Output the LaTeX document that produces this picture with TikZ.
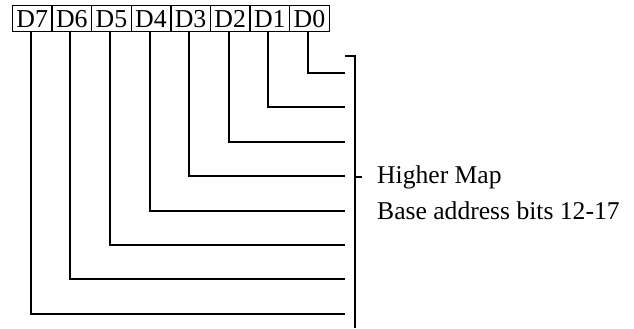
\documentclass[tikz,border=0pt]{standalone}
\usepackage{fontspec}
\setmainfont{Liberation Serif}
\begin{document}
\begin{tikzpicture}[x=1pt,y=-1pt,
  bitbox/.style={draw,line width=1.4pt,minimum width=39.6pt,minimum height=26pt,inner sep=0pt,anchor=north west,font=\fontsize{25.8}{28}\selectfont},
  wire/.style={line width=2pt},
  lbl/.style={anchor=west,inner sep=0pt,font=\fontsize{25.6}{28}\selectfont}]
\useasboundingbox (0,0) rectangle (634,329);
\foreach \i/\n in {0/7,1/6,2/5,3/4,4/3,5/2,6/1,7/0} {
  \node[bitbox] (d\n) at ({11.7+39.6*\i},5) {D\n};
}
\foreach \n in {0,...,7} {
  \coordinate (e\n) at (345,{73+34.4*\n});
  \draw[wire] ([xshift=-1.5pt]d\n.south) |- (e\n);
}
\coordinate (bt) at (355,56);
\coordinate (btl) at (345,56);
\coordinate (bb) at (355,328);
\coordinate (bm) at (355,176.5);
\coordinate (bmr) at (362,176.5);
\draw[wire] (btl) -- (bt) -- (bb);
\draw[wire] (bm) -- (bmr);
\node[lbl] (hm) at (377,177) {Higher Map};
\node[lbl] (ba) at (377,211) {Base address bits 12-17};
\end{tikzpicture}
\end{document}
